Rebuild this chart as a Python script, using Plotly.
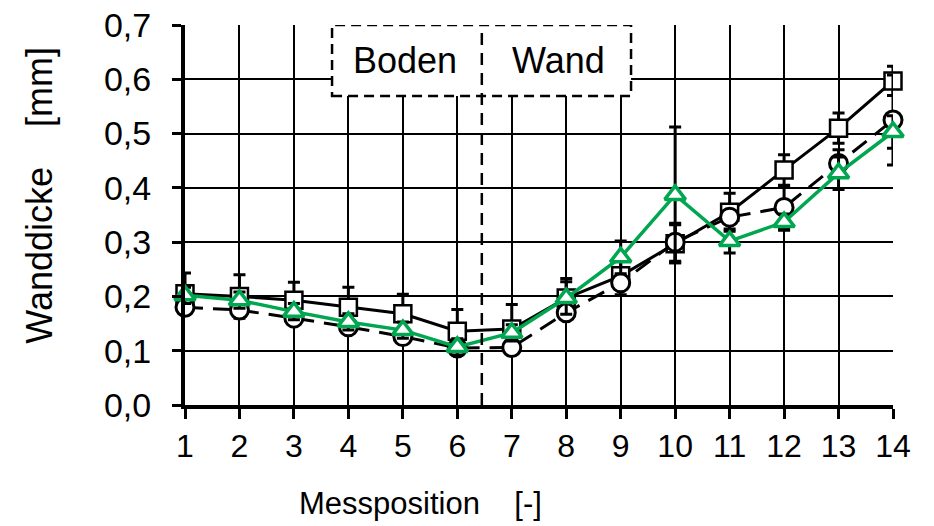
import plotly.graph_objects as go

# Messposition 1..14 along the part (Boden -> Wand)
positions = list(range(1, 15))
x_tick_labels = [str(p) for p in positions]

y_tick_vals = [0.0, 0.1, 0.2, 0.3, 0.4, 0.5, 0.6, 0.7]
y_tick_labels = ["0,0", "0,1", "0,2", "0,3", "0,4", "0,5", "0,6", "0,7"]

# Wall thickness [mm] with standard deviation, three sample series
wall_square = [0.205, 0.200, 0.193, 0.180, 0.168, 0.136, 0.140, 0.197, 0.238, 0.297, 0.355, 0.433, 0.510, 0.597]
wall_square_sd = [0.038, 0.040, 0.033, 0.037, 0.036, 0.040, 0.045, 0.036, 0.035, 0.035, 0.035, 0.028, 0.028, 0.027]

wall_circle = [0.180, 0.175, 0.160, 0.144, 0.126, 0.105, 0.106, 0.170, 0.225, 0.300, 0.346, 0.364, 0.445, 0.525]
wall_circle_sd = [0.010, 0.010, 0.012, 0.010, 0.010, 0.010, 0.010, 0.010, 0.012, 0.035, 0.012, 0.040, 0.025, 0.083]

wall_triangle = [0.202, 0.193, 0.172, 0.153, 0.138, 0.107, 0.133, 0.197, 0.272, 0.387, 0.302, 0.337, 0.427, 0.503]
wall_triangle_sd = [0.015, 0.015, 0.015, 0.015, 0.015, 0.015, 0.015, 0.030, 0.030, 0.125, 0.022, 0.015, 0.030, 0.030]

# Region labels and the Boden/Wand transition
region_labels = ["Boden", "Wand"]
region_label_x = [5.04, 7.85]
transition_x = 6.45
box_x = [3.70, 9.19]
box_y = [0.569, 0.7]

GREEN = "rgb(0,166,80)"
FONT = "Liberation Sans, Arial, sans-serif"


def err(sd):
    return dict(type="data", array=sd, visible=True, color="black", thickness=3, width=6)


fig = go.Figure()

fig.add_trace(go.Scatter(
    x=positions, y=wall_square, mode="lines+markers",
    line=dict(color="black", width=3),
    marker=dict(symbol="square", size=17, color="white", line=dict(color="black", width=2.5)),
    error_y=err(wall_square_sd), cliponaxis=False, showlegend=False,
))
fig.add_trace(go.Scatter(
    x=positions, y=wall_circle, mode="lines+markers",
    line=dict(color="black", width=3, dash="18px,10px"),
    marker=dict(symbol="circle", size=18, color="white", line=dict(color="black", width=3)),
    error_y=err(wall_circle_sd), cliponaxis=False, showlegend=False,
))
fig.add_trace(go.Scatter(
    x=positions, y=wall_triangle, mode="lines+markers",
    line=dict(color=GREEN, width=3.5),
    marker=dict(symbol="triangle-up", size=18, color="white", line=dict(color=GREEN, width=3.5)),
    error_y=err(wall_triangle_sd), cliponaxis=False, showlegend=False,
))

# Boxed region header and dashed transition line
fig.add_shape(type="rect", xref="x", yref="y", x0=box_x[0], x1=box_x[1], y0=box_y[0], y1=box_y[1],
              fillcolor="white", line=dict(color="black", width=2.5, dash="10px,6px"), layer="above")
fig.add_shape(type="line", xref="x", yref="y", x0=transition_x, x1=transition_x, y0=0, y1=0.7,
              line=dict(color="black", width=2.5, dash="12px,8px"), layer="above")

for label, lx in zip(region_labels, region_label_x):
    fig.add_annotation(x=lx, y=0.635, xref="x", yref="y", text=label, showarrow=False,
                       xanchor="center", yanchor="middle",
                       font=dict(family=FONT, size=36, color="black"))

# Axis titles
fig.add_annotation(x=-0.205, y=0.553, xref="paper", yref="paper",
                   text="Wanddicke\u00a0\u00a0\u00a0\u00a0[mm]", textangle=-90, showarrow=False,
                   xanchor="center", yanchor="middle",
                   font=dict(family=FONT, size=36, color="black"))
fig.add_annotation(x=0.332, y=-0.26, xref="paper", yref="paper",
                   text="Messposition\u00a0\u00a0\u00a0\u00a0[-]", showarrow=False,
                   xanchor="center", yanchor="middle",
                   font=dict(family=FONT, size=31, color="black"))

fig.update_xaxes(
    range=[1, 14], tickvals=positions, ticktext=x_tick_labels,
    showgrid=True, gridcolor="black", gridwidth=2,
    showline=True, linecolor="black", linewidth=4,
    ticks="outside", ticklen=10, tickwidth=3, tickcolor="black",
    tickfont=dict(family=FONT, size=32, color="black"),
    zeroline=False, fixedrange=True, automargin=False,
)
fig.update_yaxes(
    range=[0, 0.7], tickvals=y_tick_vals, ticktext=y_tick_labels,
    showgrid=True, gridcolor="black", gridwidth=2,
    showline=True, linecolor="black", linewidth=4,
    ticks="outside", ticklen=9, tickwidth=3, tickcolor="black",
    tickfont=dict(family=FONT, size=34, color="black"),
    ticklabelstandoff=14,
    zeroline=False, fixedrange=True, automargin=False,
)

fig.update_layout(
    width=934, height=526,
    margin=dict(l=185, r=41, t=25, b=121),
    plot_bgcolor="white", paper_bgcolor="white",
    font=dict(family=FONT, color="black"),
)

fig.write_html("out.html")
